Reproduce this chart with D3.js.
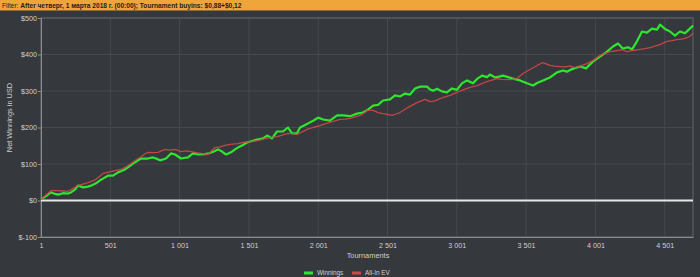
<!DOCTYPE html>
<html>
<head>
<meta charset="utf-8">
<script src="https://cdn.jsdelivr.net/npm/d3@7"></script>
<style>
  body { margin: 0; background: #35383c; }
  svg { display: block; font-family: "Liberation Sans", Arial, sans-serif; }
</style>
</head>
<body>
<div id="chart"></div>
<script>
// data: tournament number, net winnings in USD
const winTourn = [1, 37, 73, 102, 124, 160, 196, 217, 246, 268, 304, 340, 369, 398, 427, 448, 484, 520, 557, 578,
  607, 636, 665, 693, 723, 773, 809, 838, 860, 903, 939, 968, 1011, 1062, 1098, 1134, 1184, 1220, 1249, 1278,
  1307, 1336, 1372, 1401, 1422, 1458, 1487, 1523, 1560, 1603, 1632, 1668, 1704, 1747, 1783, 1812, 1848, 1870, 1906, 1942,
  1971, 2000, 2036, 2086, 2137, 2180, 2231, 2281, 2324, 2360, 2397, 2433, 2469, 2519, 2555, 2591, 2627, 2663, 2700, 2736,
  2786, 2808, 2830, 2858, 2894, 2930, 2966, 3002, 3038, 3075, 3118, 3147, 3183, 3219, 3240, 3277, 3313, 3334, 3370, 3406,
  3457, 3507, 3551, 3580, 3623, 3673, 3724, 3767, 3796, 3832, 3890, 3933, 3984, 4034, 4085, 4128, 4164, 4200, 4236, 4265,
  4301, 4337, 4373, 4409, 4445, 4467, 4503, 4539, 4575, 4611, 4647, 4669, 4705];
const winValues = [3, 12, 22, 18, 16, 20, 19, 22, 30, 41, 36, 38, 42, 47, 55, 60, 68, 68, 77, 80,
  85, 93, 101, 108, 115, 115, 118, 114, 110, 115, 129, 126, 115, 118, 129, 126, 127, 130, 134, 140,
  134, 126, 132, 140, 145, 152, 159, 163, 167, 170, 178, 170, 189, 189, 200, 184, 184, 200, 207, 214,
  220, 227, 222, 219, 233, 233, 231, 238, 241, 249, 260, 262, 274, 277, 288, 285, 293, 290, 307, 312,
  312, 304, 301, 306, 299, 296, 307, 303, 321, 329, 321, 333, 342, 338, 345, 337, 340, 342, 338, 334,
  329, 321, 315, 322, 329, 337, 351, 356, 353, 360, 367, 362, 381, 394, 408, 422, 430, 416, 420, 414,
  436, 463, 460, 471, 468, 482, 470, 463, 452, 463, 458, 466, 479];

const evTourn = [1, 37, 73, 124, 160, 196, 232, 268, 304, 340, 369, 398, 427, 448, 484, 528, 578, 614, 650, 686,
  723, 752, 773, 809, 845, 896, 932, 968, 1011, 1047, 1083, 1119, 1155, 1206, 1256, 1292, 1328, 1365, 1422, 1458,
  1509, 1560, 1603, 1653, 1704, 1747, 1783, 1819, 1848, 1884, 1920, 1963, 2014, 2050, 2086, 2122, 2158, 2194, 2231, 2267,
  2303, 2332, 2353, 2397, 2433, 2469, 2498, 2534, 2563, 2591, 2627, 2663, 2714, 2771, 2808, 2844, 2880, 2916, 2952, 3002,
  3038, 3075, 3111, 3147, 3183, 3219, 3255, 3291, 3327, 3363, 3399, 3435, 3478, 3529, 3580, 3623, 3673, 3709, 3745, 3782,
  3818, 3854, 3890, 3940, 3984, 4034, 4070, 4106, 4164, 4193, 4229, 4272, 4323, 4359, 4395, 4431, 4467, 4517, 4553, 4589,
  4633, 4662, 4683, 4705];
const evValues = [3, 15, 27, 27, 26, 25, 33, 41, 45, 49, 53, 58, 67, 74, 77, 81, 85, 92, 101, 111,
  120, 128, 132, 131, 132, 140, 138, 140, 134, 136, 134, 131, 129, 126, 145, 147, 151, 154, 156, 159,
  161, 164, 168, 172, 175, 180, 184, 183, 181, 188, 195, 200, 205, 210, 214, 218, 222, 223, 225, 229,
  233, 240, 247, 247, 241, 238, 236, 233, 237, 241, 250, 258, 268, 277, 271, 273, 279, 284, 288, 296,
  302, 307, 311, 315, 320, 326, 330, 334, 332, 331, 332, 334, 348, 359, 370, 378, 370, 368, 367, 366,
  368, 364, 368, 375, 384, 397, 403, 408, 411, 413, 408, 411, 414, 416, 419, 423, 427, 436, 438, 441,
  443, 446, 450, 458];

const xTicks = [1, 501, 1001, 1501, 2001, 2501, 3001, 3501, 4001, 4501];
const yTicks = [-100, 0, 100, 200, 300, 400, 500];
const seriesNames = ["Winnings", "All-In EV"];
const seriesColors = ["#2ee62e", "#d24848"];

const W = 700, H = 277;
const margin = {top: 18, left: 41, right: 7, bottom: 40};
const width = W - margin.left - margin.right,
    height = H - margin.top - margin.bottom;

const ru = d3.formatLocale({decimal: ",", thousands: " ", grouping: [3], currency: ["$", ""]});
const fmtX = ru.format(",d");

const svg = d3.select("#chart")
    .append("svg")
    .attr("width", W)
    .attr("height", H);

// filter bar on top
svg.append("rect")
    .attr("x", 0).attr("y", 0)
    .attr("width", W).attr("height", 10)
    .attr("fill", "#f0a53a");
svg.append("rect")
    .attr("x", 0).attr("y", 10)
    .attr("width", W).attr("height", 1)
    .attr("fill", "#8a6a3a");

const header = svg.append("text")
    .attr("x", 2).attr("y", 7.6)
    .attr("font-size", 6.6)
    .attr("fill", "#1e1e1e");
header.append("tspan").text("Filter: ");
header.append("tspan").attr("font-weight", "bold")
    .text("After четверг, 1 марта 2018 г. (00:00); Tournament buyins: $0,88+$0,12");

const gr = svg.append("g")
    .attr("transform", "translate(" + margin.left + "," + margin.top + ")");

const xScale = d3.scaleLinear()
    .domain([1, 4705])
    .range([0, width]);

const yScale = d3.scaleLinear()
    .domain([-100, 500])
    .range([height, 0]);

// grid
gr.append("g").selectAll("line")
    .data(yTicks)
    .join("line")
    .attr("x1", 0).attr("x2", width)
    .attr("y1", d => yScale(d)).attr("y2", d => yScale(d))
    .attr("stroke", "#46494e");

gr.append("g").selectAll("line")
    .data(xTicks)
    .join("line")
    .attr("x1", d => xScale(d)).attr("x2", d => xScale(d))
    .attr("y1", 0).attr("y2", height)
    .attr("stroke", "#46494e");

// frame
gr.append("rect")
    .attr("x", 0).attr("y", 0)
    .attr("width", width).attr("height", height)
    .attr("fill", "none")
    .attr("stroke", "#63676c");

const xAxis = d3.axisBottom(xScale)
    .tickValues(xTicks)
    .tickSize(0)
    .tickPadding(6)
    .tickFormat(fmtX);

const yAxis = d3.axisLeft(yScale)
    .tickValues(yTicks)
    .tickSize(3)
    .tickPadding(1)
    .tickFormat(d => "$" + d);

const xAxGr = gr.append("g")
    .attr("class", "axis x-axis")
    .attr("transform", "translate(0," + height + ")")
    .call(xAxis);

const yAxGr = gr.append("g")
    .attr("class", "axis y-axis")
    .call(yAxis);

[xAxGr, yAxGr].forEach(g => {
    g.select(".domain").attr("stroke", "#8a8d91");
    g.selectAll(".tick line").attr("stroke", "#8a8d91");
    g.selectAll(".tick text")
        .attr("fill", "#cfd0d2")
        .attr("font-size", 7.2)
        .attr("font-family", "Liberation Sans, Arial, sans-serif");
});

// zero line
gr.append("line")
    .attr("x1", 0).attr("x2", width)
    .attr("y1", yScale(0)).attr("y2", yScale(0))
    .attr("stroke", "#e6e6e6")
    .attr("stroke-width", 2);

const line = d3.line()
    .x(d => xScale(d[0]))
    .y(d => yScale(d[1]));

const winData = winTourn.map((t, i) => [t, winValues[i]]);
const evData = evTourn.map((t, i) => [t, evValues[i]]);

gr.append("path")
    .datum(winData)
    .attr("d", line)
    .attr("fill", "none")
    .attr("stroke", seriesColors[0])
    .attr("stroke-width", 2.2)
    .attr("stroke-linejoin", "round");

gr.append("path")
    .datum(evData)
    .attr("d", line)
    .attr("fill", "none")
    .attr("stroke", seriesColors[1])
    .attr("stroke-opacity", 0.9)
    .attr("stroke-width", 1.3)
    .attr("stroke-linejoin", "round");

// axis titles
svg.append("text")
    .attr("transform", "translate(12," + (margin.top + height / 2 - 10) + ") rotate(-90)")
    .attr("text-anchor", "middle")
    .attr("font-size", 7.4)
    .attr("fill", "#cfd0d2")
    .text("Net Winnings in USD");

svg.append("text")
    .attr("x", 368).attr("y", 258)
    .attr("text-anchor", "middle")
    .attr("font-size", 7.4)
    .attr("fill", "#cfd0d2")
    .text("Tournaments");

// legend
const legendX = [304, 352];
const legend = svg.append("g").selectAll("g")
    .data(seriesNames)
    .join("g")
    .attr("transform", (d, i) => "translate(" + legendX[i] + ",273)");

legend.append("rect")
    .attr("x", 0).attr("y", -1.5)
    .attr("width", 9).attr("height", 3)
    .attr("fill", (d, i) => seriesColors[i]);

legend.append("text")
    .attr("x", 13).attr("y", 2.3)
    .attr("font-size", 6.4)
    .attr("fill", "#cfd0d2")
    .text(d => d);
</script>
</body>
</html>
